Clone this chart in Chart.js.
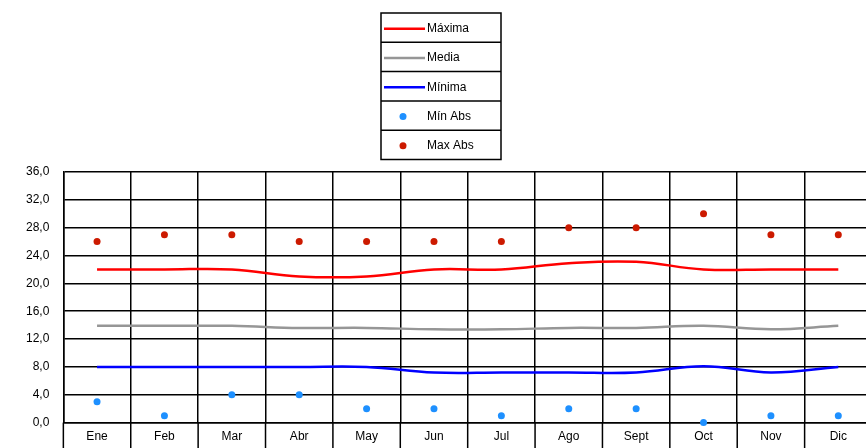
<!DOCTYPE html>
<html>
<head>
<meta charset="utf-8">
<script src="https://cdn.jsdelivr.net/npm/chart.js@4/dist/chart.umd.min.js"></script>
<style>
  html, body { margin: 0; padding: 0; overflow: hidden; background: #fff; }
  #wrap { position: relative; width: 876px; height: 451px; }
</style>
</head>
<body>
<div id="wrap"><canvas id="chart"></canvas></div>
<script>
// Temperaturas mensuales (°C)
const meses   = ['Ene', 'Feb', 'Mar', 'Abr', 'May', 'Jun', 'Jul', 'Ago', 'Sept', 'Oct', 'Nov', 'Dic'];
const maxima  = [22, 22, 22, 21, 21, 22, 22, 22.9, 23.1, 22, 22, 22];
const media   = [13.9, 13.9, 13.9, 13.6, 13.6, 13.4, 13.4, 13.6, 13.6, 13.9, 13.4, 13.9];
const minima  = [8, 8, 8, 8, 8, 7.2, 7.2, 7.2, 7.2, 8.1, 7.2, 8];
const minAbs  = [3, 1, 4, 4, 2, 2, 1, 2, 2, 0, 1, 1];
const maxAbs  = [26, 27, 27, 26, 26, 26, 26, 28, 28, 30, 27, 27];
const yTicks  = [0, 4, 8, 12, 16, 20, 24, 28, 32, 36];

const FONT = "'Liberation Sans', Arial, sans-serif";

function lineSet(label, data, color) {
    return {
        label, data,
        borderColor: color, backgroundColor: color,
        borderWidth: 2.5, pointRadius: 0, tension: 0.4,
        fill: false, order: 2
    };
}

function pointSet(label, data, color) {
    return {
        label, data,
        showLine: false, borderColor: color, backgroundColor: color,
        pointRadius: 3.5, pointStyle: 'circle', pointBorderWidth: 0,
        clip: false, order: 1
    };
}

// Month dividers run on down through the label row
const monthDividers = {
    id: 'monthDividers',
    afterDraw(chart) {
        const x = chart.scales.x, ctx = chart.ctx;
        ctx.save();
        ctx.strokeStyle = '#000';
        ctx.lineWidth = 1.5;
        for (let i = 0; i <= meses.length; i++) {
            const px = x.getPixelForValue(i - 0.5);
            ctx.beginPath();
            ctx.moveTo(px, chart.chartArea.bottom);
            ctx.lineTo(px, chart.height);
            ctx.stroke();
        }
        ctx.restore();
    }
};

// Boxed legend, one row per series
const boxLegend = {
    id: 'boxLegend',
    afterDraw(chart) {
        const ctx = chart.ctx;
        const x = 381, y = 13, w = 120, rowH = 29.3;
        const sets = chart.data.datasets;
        ctx.save();
        ctx.strokeStyle = '#000';
        ctx.lineWidth = 1.5;
        ctx.strokeRect(x, y, w, rowH * sets.length);
        ctx.font = '12px ' + FONT;
        ctx.textBaseline = 'middle';
        ctx.fillStyle = '#000';
        sets.forEach((ds, i) => {
            const cy = y + rowH * i + rowH / 2 + 1;
            if (i > 0) {
                ctx.beginPath();
                ctx.moveTo(x, y + rowH * i);
                ctx.lineTo(x + w, y + rowH * i);
                ctx.stroke();
            }
            if (ds.showLine === false) {
                ctx.fillStyle = ds.backgroundColor;
                ctx.beginPath();
                ctx.arc(x + 22, cy, 3.5, 0, Math.PI * 2);
                ctx.fill();
            } else {
                ctx.strokeStyle = ds.borderColor;
                ctx.lineWidth = 2.5;
                ctx.beginPath();
                ctx.moveTo(x + 3, cy);
                ctx.lineTo(x + 44, cy);
                ctx.stroke();
                ctx.strokeStyle = '#000';
                ctx.lineWidth = 1.5;
            }
            ctx.fillStyle = '#000';
            ctx.fillText(ds.label, x + 46, cy);
        });
        ctx.restore();
    }
};

new Chart(document.getElementById('chart'), {
    type: 'line',
    data: {
        labels: meses,
        datasets: [
            lineSet('Máxima', maxima, '#ff0000'),
            lineSet('Media', media, '#969696'),
            lineSet('Mínima', minima, '#0000ff'),
            pointSet('Mín Abs', minAbs, '#1e90ff'),
            pointSet('Max Abs', maxAbs, '#cc1a00')
        ]
    },
    options: {
        responsive: true,
        maintainAspectRatio: false,
        animation: false,
        layout: { padding: { top: 172, left: 12, right: 2, bottom: 0 } },
        plugins: { legend: { display: false }, tooltip: { enabled: false } },
        scales: {
            x: {
                offset: true,
                grid: { offset: true, color: '#000', lineWidth: 1.5, drawTicks: false },
                border: { color: '#000', width: 1.5 },
                ticks: { color: '#000', font: { family: FONT, size: 12 }, padding: 7, maxRotation: 0, autoSkip: false }
            },
            y: {
                min: 0, max: 36,
                afterBuildTicks: axis => { axis.ticks = yTicks.map(v => ({ value: v })); },
                grid: { color: '#000', lineWidth: 1.5, drawTicks: false },
                border: { color: '#000', width: 1.5 },
                ticks: {
                    color: '#000', font: { family: FONT, size: 12 }, padding: 14,
                    callback: v => v.toFixed(1).replace('.', ',')
                }
            }
        }
    },
    plugins: [monthDividers, boxLegend]
});
</script>
</body>
</html>
